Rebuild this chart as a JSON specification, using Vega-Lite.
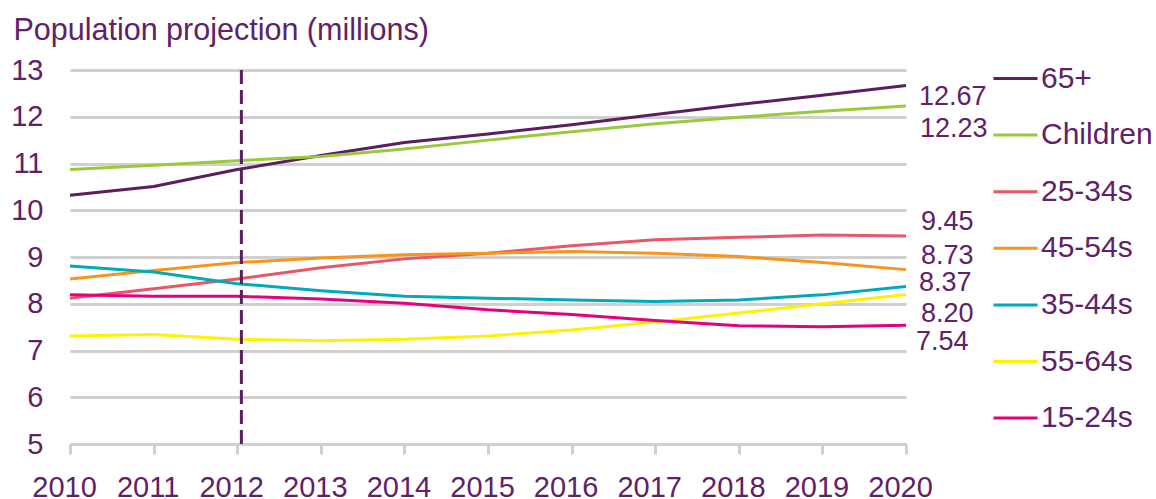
{
  "$schema": "https://vega.github.io/schema/vega-lite/v6.json",
  "autosize": {"type": "none"},
  "padding": {"left": 70, "top": 70, "right": 250, "bottom": 55},
  "width": 836,
  "height": 374,
  "background": "white",
  "config": {
    "view": {"stroke": null},
    "font": "Liberation Sans",
    "text": {"font": "Liberation Sans"}
  },
  "datasets": {
    "pop": [
      {"year": 2010, "group": "65+", "value": 10.32},
      {"year": 2011, "group": "65+", "value": 10.51},
      {"year": 2012, "group": "65+", "value": 10.87},
      {"year": 2013, "group": "65+", "value": 11.17},
      {"year": 2014, "group": "65+", "value": 11.45},
      {"year": 2015, "group": "65+", "value": 11.63},
      {"year": 2016, "group": "65+", "value": 11.83},
      {"year": 2017, "group": "65+", "value": 12.05},
      {"year": 2018, "group": "65+", "value": 12.26},
      {"year": 2019, "group": "65+", "value": 12.46},
      {"year": 2020, "group": "65+", "value": 12.67},
      {"year": 2010, "group": "Children", "value": 10.87},
      {"year": 2011, "group": "Children", "value": 10.96},
      {"year": 2012, "group": "Children", "value": 11.06},
      {"year": 2013, "group": "Children", "value": 11.15},
      {"year": 2014, "group": "Children", "value": 11.31},
      {"year": 2015, "group": "Children", "value": 11.50},
      {"year": 2016, "group": "Children", "value": 11.68},
      {"year": 2017, "group": "Children", "value": 11.85},
      {"year": 2018, "group": "Children", "value": 11.99},
      {"year": 2019, "group": "Children", "value": 12.12},
      {"year": 2020, "group": "Children", "value": 12.23},
      {"year": 2010, "group": "25-34s", "value": 8.12},
      {"year": 2011, "group": "25-34s", "value": 8.32},
      {"year": 2012, "group": "25-34s", "value": 8.53},
      {"year": 2013, "group": "25-34s", "value": 8.77},
      {"year": 2014, "group": "25-34s", "value": 8.96},
      {"year": 2015, "group": "25-34s", "value": 9.08},
      {"year": 2016, "group": "25-34s", "value": 9.24},
      {"year": 2017, "group": "25-34s", "value": 9.37},
      {"year": 2018, "group": "25-34s", "value": 9.42},
      {"year": 2019, "group": "25-34s", "value": 9.47},
      {"year": 2020, "group": "25-34s", "value": 9.45},
      {"year": 2010, "group": "45-54s", "value": 8.53},
      {"year": 2011, "group": "45-54s", "value": 8.71},
      {"year": 2012, "group": "45-54s", "value": 8.88},
      {"year": 2013, "group": "45-54s", "value": 8.98},
      {"year": 2014, "group": "45-54s", "value": 9.05},
      {"year": 2015, "group": "45-54s", "value": 9.08},
      {"year": 2016, "group": "45-54s", "value": 9.12},
      {"year": 2017, "group": "45-54s", "value": 9.08},
      {"year": 2018, "group": "45-54s", "value": 9.01},
      {"year": 2019, "group": "45-54s", "value": 8.88},
      {"year": 2020, "group": "45-54s", "value": 8.73},
      {"year": 2010, "group": "35-44s", "value": 8.81},
      {"year": 2011, "group": "35-44s", "value": 8.68},
      {"year": 2012, "group": "35-44s", "value": 8.43},
      {"year": 2013, "group": "35-44s", "value": 8.28},
      {"year": 2014, "group": "35-44s", "value": 8.16},
      {"year": 2015, "group": "35-44s", "value": 8.12},
      {"year": 2016, "group": "35-44s", "value": 8.08},
      {"year": 2017, "group": "35-44s", "value": 8.05},
      {"year": 2018, "group": "35-44s", "value": 8.08},
      {"year": 2019, "group": "35-44s", "value": 8.19},
      {"year": 2020, "group": "35-44s", "value": 8.37},
      {"year": 2010, "group": "55-64s", "value": 7.31},
      {"year": 2011, "group": "55-64s", "value": 7.34},
      {"year": 2012, "group": "55-64s", "value": 7.24},
      {"year": 2013, "group": "55-64s", "value": 7.21},
      {"year": 2014, "group": "55-64s", "value": 7.24},
      {"year": 2015, "group": "55-64s", "value": 7.31},
      {"year": 2016, "group": "55-64s", "value": 7.44},
      {"year": 2017, "group": "55-64s", "value": 7.61},
      {"year": 2018, "group": "55-64s", "value": 7.80},
      {"year": 2019, "group": "55-64s", "value": 8.00},
      {"year": 2020, "group": "55-64s", "value": 8.20},
      {"year": 2010, "group": "15-24s", "value": 8.19},
      {"year": 2011, "group": "15-24s", "value": 8.16},
      {"year": 2012, "group": "15-24s", "value": 8.16},
      {"year": 2013, "group": "15-24s", "value": 8.10},
      {"year": 2014, "group": "15-24s", "value": 8.01},
      {"year": 2015, "group": "15-24s", "value": 7.87},
      {"year": 2016, "group": "15-24s", "value": 7.77},
      {"year": 2017, "group": "15-24s", "value": 7.64},
      {"year": 2018, "group": "15-24s", "value": 7.53},
      {"year": 2019, "group": "15-24s", "value": 7.51},
      {"year": 2020, "group": "15-24s", "value": 7.54}
    ],
    "marker": [{"year": 2012.05}]
  },
  "layer": [
    {
      "data": {"name": "pop"},
      "mark": {"type": "line", "strokeWidth": 3},
      "encoding": {
        "x": {
          "field": "year", "type": "quantitative",
          "scale": {"domain": [2010, 2020], "nice": false, "zero": false},
          "axis": {
            "title": null, "values": [2010, 2011, 2012, 2013, 2014, 2015, 2016, 2017, 2018, 2019, 2020],
            "format": "d", "grid": false,
            "domainColor": "#D0D0D0", "domainWidth": 3,
            "tickColor": "#D0D0D0", "tickWidth": 3, "tickSize": 10,
            "labelFont": "Liberation Sans", "labelFontSize": 29, "labelColor": "#5F2167",
            "labelBaseline": "alphabetic", "labelPadding": 42, "labelOffset": -6,
            "labelFlush": false, "labelOverlap": false
          }
        },
        "y": {
          "field": "value", "type": "quantitative",
          "scale": {"domain": [5, 13], "nice": false, "zero": false},
          "axis": {
            "title": "Population projection (millions)",
            "titleAngle": 0, "titleAlign": "left", "titleBaseline": "alphabetic",
            "titleX": -57, "titleY": -31, "titleFont": "Liberation Sans", "titleFontSize": 30.5,
            "titleFontWeight": "normal", "titleColor": "#5F2167",
            "values": [5, 6, 7, 8, 9, 10, 11, 12, 13],
            "domain": false, "ticks": false,
            "gridColor": "#D0D0D0", "gridWidth": 3,
            "labelFont": "Liberation Sans", "labelFontSize": 29, "labelColor": "#5F2167",
            "labelPadding": 27
          }
        },
        "color": {
          "field": "group", "type": "nominal",
          "scale": {
            "domain": ["65+", "Children", "25-34s", "45-54s", "35-44s", "55-64s", "15-24s"],
            "range": ["#5B1E5F", "#9ACA3C", "#E9566A", "#F7941D", "#00A9BC", "#FFF200", "#E5007E"]
          },
          "legend": {
            "title": null, "orient": "none", "legendX": 922, "legendY": -15,
            "symbolType": "stroke", "symbolSize": 1936, "symbolStrokeWidth": 3,
            "labelFont": "Liberation Sans", "labelFontSize": 30, "labelColor": "#5F2167",
            "labelOffset": 2, "rowPadding": 17.6, "padding": 0
          }
        }
      }
    },
    {
      "data": {"name": "marker"},
      "mark": {"type": "rule", "color": "#5B1E5F", "strokeWidth": 3, "strokeDash": [14, 6]},
      "encoding": {
        "x": {"field": "year", "type": "quantitative"}
      }
    },
    {
      "data": {"name": "pop"},
      "transform": [{"filter": "datum.year == 2020 && datum.group == '65+'"}],
      "mark": {"type": "text", "align": "left", "baseline": "middle", "dx": 13, "dy": 12, "fontSize": 27, "color": "#5F2167"},
      "encoding": {"x": {"field": "year", "type": "quantitative"}, "y": {"field": "value", "type": "quantitative"}, "text": {"field": "value", "type": "quantitative", "format": ".2f"}}
    },
    {
      "data": {"name": "pop"},
      "transform": [{"filter": "datum.year == 2020 && datum.group == 'Children'"}],
      "mark": {"type": "text", "align": "left", "baseline": "middle", "dx": 14, "dy": 23, "fontSize": 27, "color": "#5F2167"},
      "encoding": {"x": {"field": "year", "type": "quantitative"}, "y": {"field": "value", "type": "quantitative"}, "text": {"field": "value", "type": "quantitative", "format": ".2f"}}
    },
    {
      "data": {"name": "pop"},
      "transform": [{"filter": "datum.year == 2020 && (datum.group == '25-34s' || datum.group == '45-54s')"}],
      "mark": {"type": "text", "align": "left", "baseline": "middle", "dx": 15, "dy": -14, "fontSize": 27, "color": "#5F2167"},
      "encoding": {"x": {"field": "year", "type": "quantitative"}, "y": {"field": "value", "type": "quantitative"}, "text": {"field": "value", "type": "quantitative", "format": ".2f"}}
    },
    {
      "data": {"name": "pop"},
      "transform": [{"filter": "datum.year == 2020 && datum.group == '35-44s'"}],
      "mark": {"type": "text", "align": "left", "baseline": "middle", "dx": 13, "dy": -3, "fontSize": 27, "color": "#5F2167"},
      "encoding": {"x": {"field": "year", "type": "quantitative"}, "y": {"field": "value", "type": "quantitative"}, "text": {"field": "value", "type": "quantitative", "format": ".2f"}}
    },
    {
      "data": {"name": "pop"},
      "transform": [{"filter": "datum.year == 2020 && datum.group == '55-64s'"}],
      "mark": {"type": "text", "align": "left", "baseline": "middle", "dx": 15, "dy": 20, "fontSize": 27, "color": "#5F2167"},
      "encoding": {"x": {"field": "year", "type": "quantitative"}, "y": {"field": "value", "type": "quantitative"}, "text": {"field": "value", "type": "quantitative", "format": ".2f"}}
    },
    {
      "data": {"name": "pop"},
      "transform": [{"filter": "datum.year == 2020 && datum.group == '15-24s'"}],
      "mark": {"type": "text", "align": "left", "baseline": "middle", "dx": 10, "dy": 17, "fontSize": 27, "color": "#5F2167"},
      "encoding": {"x": {"field": "year", "type": "quantitative"}, "y": {"field": "value", "type": "quantitative"}, "text": {"field": "value", "type": "quantitative", "format": ".2f"}}
    }
  ]
}
